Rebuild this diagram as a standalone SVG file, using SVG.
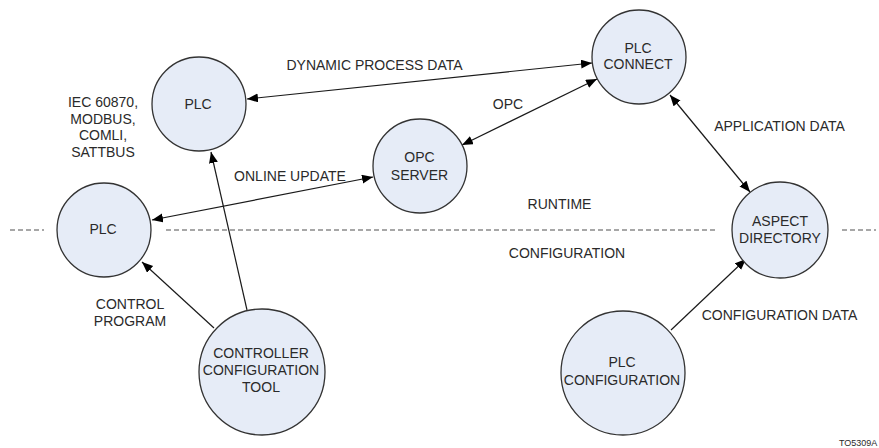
<svg xmlns="http://www.w3.org/2000/svg" width="879" height="448" viewBox="0 0 879 448">
<style>
.node circle{fill:#e6ecf7;stroke:#333;stroke-width:1.3}
text{font-family:"Liberation Sans",Arial,sans-serif;font-size:14px;fill:#2a2a2a;text-anchor:middle}
.conn line{stroke:#1a1a1a;stroke-width:1.2;fill:none}
.dash{stroke:#8a8a8a;stroke-width:1.3;stroke-dasharray:5 3}
</style>
<defs>
<marker id="ah" markerUnits="userSpaceOnUse" markerWidth="12" markerHeight="10" refX="11" refY="4.5" orient="auto-start-reverse">
<path d="M0,0 L11,4.5 L0,9 z" fill="#000"/>
</marker>
</defs>
<rect width="879" height="448" fill="#fff"/>
<g id="divider">
<line class="dash" x1="10" y1="230" x2="44" y2="230"/>
<line class="dash" x1="166" y1="230" x2="718" y2="230"/>
<line class="dash" x1="842" y1="230" x2="876" y2="230"/>
</g>
<g id="connectors" class="conn">
<line x1="247" y1="99" x2="592" y2="63" marker-start="url(#ah)" marker-end="url(#ah)"/>
<line x1="462" y1="145" x2="597" y2="79" marker-start="url(#ah)" marker-end="url(#ah)"/>
<line x1="152" y1="220" x2="373" y2="177" marker-start="url(#ah)" marker-end="url(#ah)"/>
<line x1="247" y1="310" x2="211" y2="152" marker-end="url(#ah)"/>
<line x1="214" y1="328" x2="142" y2="262" marker-end="url(#ah)"/>
<line x1="670" y1="95" x2="750" y2="192" marker-start="url(#ah)" marker-end="url(#ah)"/>
<line x1="671" y1="330" x2="746" y2="259" marker-end="url(#ah)"/>
</g>
<g id="labels">
<text x="374.5" y="70">DYNAMIC PROCESS DATA</text>
<text x="508" y="109">OPC</text>
<text x="103" y="107">IEC 60870,</text>
<text x="103" y="124">MODBUS,</text>
<text x="103" y="140">COMLI,</text>
<text x="103" y="157">SATTBUS</text>
<text x="290" y="181">ONLINE UPDATE</text>
<text x="779.5" y="131">APPLICATION DATA</text>
<text x="559.5" y="209">RUNTIME</text>
<text x="567" y="258">CONFIGURATION</text>
<text x="130" y="309">CONTROL</text>
<text x="130" y="326">PROGRAM</text>
<text x="779.5" y="320">CONFIGURATION DATA</text>
<text x="839" y="446" style="font-size:9px;text-anchor:start">TO5309A</text>
</g>
<g id="plc-top" class="node">
<circle cx="199" cy="104" r="47"/>
<text x="198" y="109">PLC</text>
</g>
<g id="opc-server" class="node">
<circle cx="420" cy="166" r="47"/>
<text x="419.5" y="162">OPC</text>
<text x="419.5" y="180">SERVER</text>
</g>
<g id="plc-connect" class="node">
<circle cx="639" cy="57" r="47"/>
<text x="638" y="53">PLC</text>
<text x="638" y="69">CONNECT</text>
</g>
<g id="aspect-directory" class="node">
<circle cx="780" cy="230" r="48"/>
<text x="780" y="226">ASPECT</text>
<text x="780" y="243">DIRECTORY</text>
</g>
<g id="plc-left" class="node">
<circle cx="104" cy="230" r="47"/>
<text x="103" y="234">PLC</text>
</g>
<g id="controller-config-tool" class="node">
<circle cx="262" cy="372" r="63"/>
<text x="261" y="358">CONTROLLER</text>
<text x="261" y="375">CONFIGURATION</text>
<text x="261" y="392">TOOL</text>
</g>
<g id="plc-configuration" class="node">
<circle cx="623" cy="373" r="62"/>
<text x="622" y="367">PLC</text>
<text x="622" y="385">CONFIGURATION</text>
</g>
</svg>
